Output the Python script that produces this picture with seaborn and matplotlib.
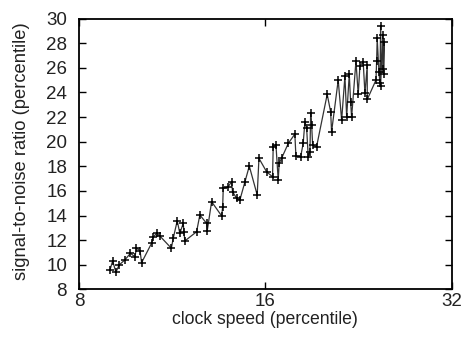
import numpy as np
import pandas as pd
import matplotlib
matplotlib.use("Agg")
import matplotlib.pyplot as plt
import seaborn as sns

# ============================================================
# Data
# ============================================================

clock_speed = [
    8.98, 9.07, 9.18, 9.29, 9.49, 9.69, 9.85, 9.91, 10.04, 10.10,
    10.48, 10.54, 10.68, 10.81, 11.28, 11.36, 11.53, 11.64, 11.79, 11.82,
    11.86, 12.39, 12.54, 12.86, 12.89, 13.10, 13.60, 13.65, 13.68, 13.93,
    14.11, 14.16, 14.38, 14.55, 14.83, 15.07, 15.52, 15.62, 16.07, 16.43,
    16.47, 16.64, 16.78, 16.84, 16.99, 17.42, 17.85, 17.92, 18.24, 18.41,
    18.53, 18.65, 18.76, 18.88, 18.93, 19.00, 19.07, 19.35, 20.13, 20.39,
    20.46, 20.97, 21.24, 21.50, 21.64, 21.85, 21.96, 22.04, 22.40, 22.59,
    22.73, 23.01, 23.16, 23.36, 23.36, 24.13, 24.19, 24.24, 24.40, 24.49,
    24.55, 24.55, 24.74, 24.79, 24.86, 24.86,
]

snr = [
    9.59, 10.32, 9.40, 9.99, 10.40, 10.94, 10.66, 11.35, 11.15, 10.18,
    11.75, 12.24, 12.56, 12.34, 11.35, 12.16, 13.58, 12.56, 13.37, 12.69,
    11.94, 12.69, 14.05, 13.37, 12.77, 15.13, 13.97, 14.72, 16.21, 16.34,
    16.75, 15.94, 15.40, 15.26, 16.75, 18.02, 15.67, 18.65, 17.56, 17.15,
    19.59, 19.72, 16.89, 18.24, 18.65, 19.86, 20.62, 18.83, 18.78, 19.86,
    21.61, 21.08, 18.78, 19.18, 22.30, 21.35, 19.72, 19.59, 23.84, 22.42,
    20.80, 25.00, 21.75, 25.32, 22.02, 25.48, 23.24, 21.97, 26.54, 23.84,
    26.13, 26.48, 23.92, 26.21, 23.43, 25.00, 26.56, 28.38, 25.67, 24.73,
    29.38, 24.51, 28.70, 25.94, 28.10, 25.48,
]

x_ticks = [8, 16, 32]
y_ticks = list(range(8, 31, 2))

df = pd.DataFrame({"clock": clock_speed, "snr": snr})

# ============================================================
# Style
# ============================================================

sns.set_theme(style="white")
plt.rcParams["font.family"] = ["Liberation Sans", "DejaVu Sans"]

fig = plt.figure(figsize=(4.64, 3.43), dpi=100)
ax = fig.add_axes([0.170, 0.156, 0.804, 0.790])

sns.lineplot(
    data=df,
    x="clock",
    y="snr",
    sort=False,
    estimator=None,
    color="#333333",
    linewidth=0.9,
    marker="+",
    markersize=6,
    markeredgewidth=1.1,
    markeredgecolor="black",
    ax=ax,
)

ax.set_xscale("log", base=2)
ax.set_xlim(8, 32)
ax.set_ylim(8, 30)
ax.set_xticks(x_ticks)
ax.set_xticklabels([str(t) for t in x_ticks])
ax.xaxis.set_minor_locator(matplotlib.ticker.NullLocator())
ax.set_yticks(y_ticks)

ax.tick_params(
    axis="both",
    direction="in",
    length=5,
    width=1,
    color="black",
    labelsize=13.5,
    labelcolor="#222222",
    top=True,
    right=True,
    bottom=True,
    left=True,
)
ax.tick_params(axis="x", pad=2.5)
ax.tick_params(axis="y", pad=8.5)

for spine in ax.spines.values():
    spine.set_color("black")
    spine.set_linewidth(1.3)

ax.set_xlabel("clock speed (percentile)", fontsize=12.7, color="#222222")
ax.set_ylabel("signal-to-noise ratio (percentile)", fontsize=13.2, color="#222222")
ax.xaxis.label.set_va("center")
ax.yaxis.label.set_va("center")
ax.xaxis.set_label_coords(0.5, -0.109)
ax.yaxis.set_label_coords(-0.153, 0.51)

fig.savefig("out.png", dpi=100)
